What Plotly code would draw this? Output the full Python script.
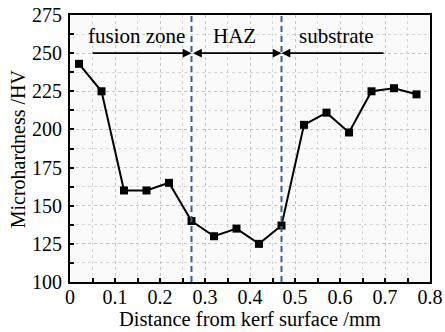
import plotly.graph_objects as go

distance = [0.02, 0.07, 0.12, 0.17, 0.22, 0.27, 0.32, 0.37, 0.42, 0.47, 0.52, 0.57, 0.62, 0.67, 0.72, 0.77]
hardness = [243, 225, 160, 160, 165, 140, 130, 135, 125, 137, 203, 211, 198, 225, 227, 223]

zone_bounds = [0.27, 0.47]
zone_names = ["fusion zone", "HAZ", "substrate"]
zone_label_x = [0.147, 0.366, 0.592]
zone_label_y = 261
arrow_y = 250
arrow_start = 0.047
arrow_end = 0.70

x_title = "Distance from kerf surface /mm"
y_title = "Microhardness /HV"

FONT = "Liberation Serif"

fig = go.Figure()
fig.add_trace(go.Scatter(
    x=distance, y=hardness, mode="lines+markers",
    line=dict(color="black", width=2),
    marker=dict(symbol="square", size=8, color="black"),
    showlegend=False,
))

for b in zone_bounds:
    fig.add_shape(type="line", x0=b, x1=b, y0=0, y1=1, xref="x", yref="paper",
                  line=dict(color="#33628f", width=2, dash="6px,4px"))

annotations = []
for name, lx in zip(zone_names, zone_label_x):
    annotations.append(dict(x=lx, y=zone_label_y, text=name, showarrow=False,
                            font=dict(family=FONT, size=21, color="black"),
                            xref="x", yref="y"))

arrow_common = dict(xref="x", yref="y", axref="x", ayref="y", text="", showarrow=True,
                    arrowhead=2, arrowsize=1.1, arrowwidth=1.6, arrowcolor="black")
annotations.append(dict(x=zone_bounds[0], y=arrow_y, ax=arrow_start, ay=arrow_y, **arrow_common))
annotations.append(dict(x=zone_bounds[1], y=arrow_y, ax=zone_bounds[0], ay=arrow_y,
                        arrowside="end+start", startarrowhead=2, startarrowsize=1.1, **arrow_common))
annotations.append(dict(x=zone_bounds[1], y=arrow_y, ax=arrow_end, ay=arrow_y, **arrow_common))

# axis titles
annotations.append(dict(x=0.5, y=-0.14, xref="paper", yref="paper", text=x_title,
                        showarrow=False, xanchor="center", yanchor="middle",
                        font=dict(family=FONT, size=20.5, color="black")))
annotations.append(dict(x=-0.145, y=0.5, xref="paper", yref="paper", text=y_title,
                        showarrow=False, xanchor="center", yanchor="middle", textangle=-90,
                        font=dict(family=FONT, size=20, color="black")))

axis_common = dict(
    showline=True, linecolor="black", linewidth=2, mirror=True,
    ticks="inside", ticklen=4, tickcolor="black", tickwidth=1.5,
    showgrid=True, gridcolor="#c4c4c4", gridwidth=1, griddash="dot",
    zeroline=False, ticklabeloverflow="allow",
    tickfont=dict(family=FONT, size=20, color="black"),
)

fig.update_layout(
    width=445, height=332,
    margin=dict(l=70, r=15, t=15, b=50),
    paper_bgcolor="white", plot_bgcolor="#fafafa",
    annotations=annotations,
    xaxis=dict(range=[0, 0.8], dtick=0.1, tickformat="~g", automargin=False,
               ticklabelstandoff=-4,
               minor=dict(dtick=0.05, ticks="inside", ticklen=4, tickcolor="black",
                          showgrid=True, gridcolor="#d6d6d6", griddash="dot"),
               **axis_common),
    yaxis=dict(range=[100, 275], dtick=25, automargin=False, ticklabelstandoff=2,
               minor=dict(dtick=12.5, ticks="inside", ticklen=4, tickcolor="black",
                          showgrid=True, gridcolor="#d6d6d6", griddash="dot"),
               **axis_common),
)

fig.write_html("out.html", config={"displayModeBar": False},
               post_script="document.body.style.margin='0';document.body.style.overflow='hidden';")
